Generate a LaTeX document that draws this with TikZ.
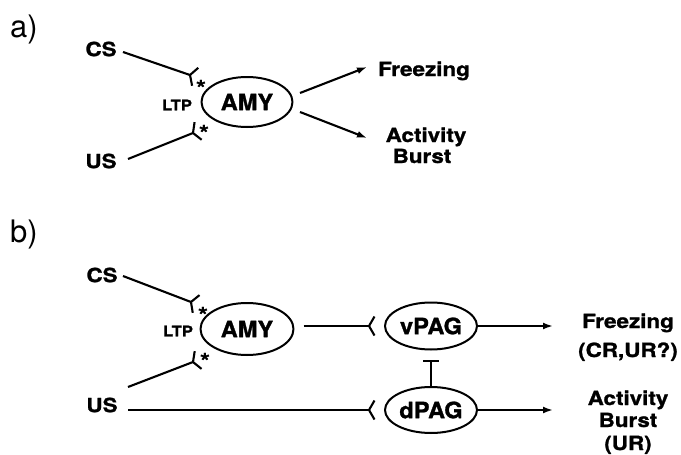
\documentclass[tikz,border=0pt]{standalone}
\usepackage{fontspec}
\setmainfont{TeX Gyre Heros}
\newfontfamily\labfont{TeX Gyre Heros}[FakeStretch=1.15,FakeBold=1.2]
\newfontfamily\ellfont{TeX Gyre Heros}[FakeStretch=1.05,FakeBold=1.2]
\usetikzlibrary{shapes.geometric,arrows.meta,decorations.markings}
\begin{document}
\begin{tikzpicture}[x=1pt,y=-1pt,line width=2.1pt,line join=round,
  lab/.style={font=\labfont\bfseries\fontsize{19.5}{22}\selectfont,inner sep=0pt},
  labb/.style={lab,anchor=base},
  small/.style={font=\labfont\bfseries\fontsize{14.5}{16}\selectfont,inner sep=0pt},
  astx/.style={font=\labfont\bfseries\fontsize{22}{24}\selectfont,inner sep=0pt},
  panel/.style={font=\fontsize{31}{34}\selectfont,inner sep=0pt,anchor=base west},
  ell/.style={draw,line width=2pt,ellipse,inner sep=0pt,font=\ellfont\bfseries\fontsize{22.5}{25}\selectfont},
  synend/.style={postaction={decorate,decoration={markings,mark=at position 1 with {\draw[line width=2.1pt,line join=round] (5.5pt,9.5pt) -- (0pt,0pt) -- (5.5pt,-9.5pt);}}}},
  arr/.style={-{Latex[length=10pt,width=7pt]}},
  inh/.style={-{Bar[width=16pt]}}
]
\useasboundingbox (0,0) rectangle (681,455);

% ---------- panel a ----------
\node[panel] (pa) at (9,37) {a)};
\node[lab] (csa) at (101,49) {CS};
\node[lab] (usa) at (101,161) {US};
\node[small] (ltpa) at (177,105) {LTP};
\node[ell,minimum width=91pt,minimum height=50pt] (amya) at (247,102) {AMY};
\node[astx] (sa1) at (201,88) {*};
\node[astx] (sa2) at (204,133) {*};
\coordinate (csa1) at (123,52);
\coordinate (csa2) at (190,75);
\coordinate (usa1) at (128,159);
\coordinate (usa2) at (193,133);
\draw[synend] (csa1) -- (csa2);
\draw[synend] (usa1) -- (usa2);
\coordinate (oa1) at (300,93);
\coordinate (oa2) at (300,112);
\coordinate (fa) at (367,67);
\coordinate (ba) at (367,138);
\draw[arr] (oa1) -- (fa);
\draw[arr] (oa2) -- (ba);
\node[labb] (frza) at (424,76) {Freezing};
\node[labb] (acta) at (426,142) {Activity};
\node[labb] (bura) at (422,163) {Burst};

% ---------- panel b ----------
\node[panel] (pb) at (9,242) {b)};
\node[lab] (csb) at (102,275) {CS};
\node[lab] (usb) at (102,405) {US};
\node[small] (ltpb) at (178,331) {LTP};
\node[ell,minimum width=93pt,minimum height=52pt] (amyb) at (247,329) {AMY};
\node[astx] (sb1) at (203,315) {*};
\node[astx] (sb2) at (205,361) {*};
\node[ell,minimum width=92pt,minimum height=47pt] (vpag) at (431,326) {vPAG};
\node[ell,minimum width=92pt,minimum height=46pt] (dpag) at (431,410) {dPAG};
\coordinate (csb1) at (123,276);
\coordinate (csb2) at (191,302);
\coordinate (usb1) at (128,387);
\coordinate (usb2) at (193,362);
\coordinate (usb3) at (128,410);
\draw[synend] (csb1) -- (csb2);
\draw[synend] (usb1) -- (usb2);
\draw[synend] (usb3) -- ([xshift=-15pt]dpag.west);
\draw[synend] ([xshift=9pt]amyb.east |- vpag.west) -- ([xshift=-15pt]vpag.west);
\coordinate (tbar) at (431,360);
\draw[inh] (dpag.north) -- (tbar);
\coordinate (fb) at (553,326);
\coordinate (bb) at (553,410);
\draw[arr] (vpag.east) -- (fb);
\draw[arr] (dpag.east) -- (bb);
\node[labb] (frzb) at (628,328) {Freezing};
\node[labb] (crb) at (628,357) {(CR,UR?)};
\node[labb] (actb) at (628,405) {Activity};
\node[labb] (burb) at (628,427) {Burst};
\node[labb] (urb) at (628,450) {(UR)};
\end{tikzpicture}
\end{document}
